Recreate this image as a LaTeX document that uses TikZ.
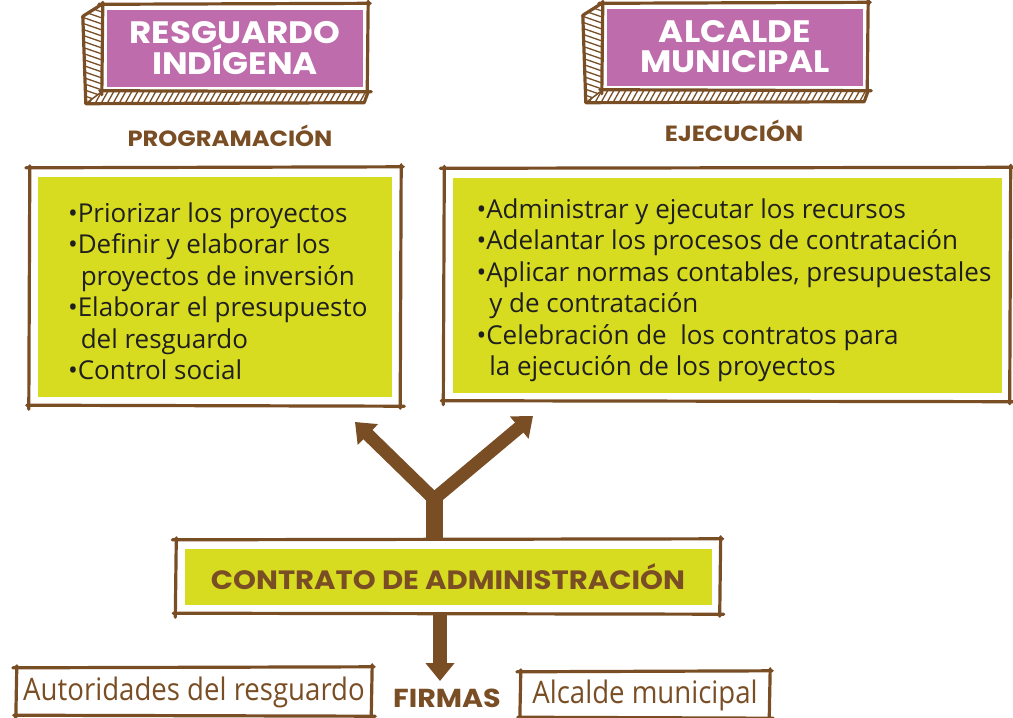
\documentclass[tikz,border=0pt]{standalone}
\usepackage{fontspec}
\setmainfont{Open Sans}
\newfontfamily\titfont[FakeStretch=1.1]{Poppins}
\newfontfamily\delgada[FakeStretch=0.89]{Open Sans}
\usetikzlibrary{arrows.meta,positioning}

\definecolor{cafe}{HTML}{7A4E25}
\definecolor{rosa}{HTML}{BE6CAB}
\definecolor{lima}{HTML}{D8DC21}

% hand drawn frame round a node: #1 node, #2 gap
\newcommand{\boceto}[2]{%
  \draw[trazo] ([shift={(-#2-3,-#2)}]#1.north west) -- ([shift={(#2+2,-#2-1)}]#1.north east);
  \draw[trazo] ([shift={(#2,-#2-3)}]#1.north east) -- ([shift={(#2-1,#2+2)}]#1.south east);
  \draw[trazo] ([shift={(#2+3,#2)}]#1.south east) -- ([shift={(-#2-2,#2-1)}]#1.south west);
  \draw[trazo] ([shift={(-#2,#2+3)}]#1.south west) -- ([shift={(-#2+1,-#2-2)}]#1.north west);
}

\begin{document}
\begin{tikzpicture}[
        x=1pt, y=-1pt,
        trazo/.style={draw=cafe, line width=3.2pt, line cap=round},
        titulo/.style={
            fill=rosa,
            text=white,
            align=center,
            inner sep=0pt,
            minimum width=256pt,
            minimum height=77pt,
            font=\titfont\bfseries\fontsize{31}{30}\selectfont
        },
        etapa/.style={
            text=cafe,
            inner sep=0pt,
            font=\titfont\bfseries\fontsize{22}{22}\selectfont
        },
        panel/.style={fill=lima, inner sep=0pt},
        lista/.style={
            align=left,
            inner sep=0pt,
            text=black!88,
            font=\fontsize{26}{31.5}\selectfont
        },
        firma/.style={
            text=cafe,
            inner sep=0pt,
            font=\delgada\fontsize{31}{32}\selectfont
        },
        flecha/.style={draw=cafe, line width=13pt, line join=round,
            -{Triangle[width=28pt,length=18pt]}}
    ]
    \useasboundingbox (0,0) rectangle (1013,718);

    % Headers
    \node[titulo] (resg) at (235,48) {RESGUARDO\\INDÍGENA};
    \node[titulo] (alc) at (735,47) {ALCALDE\\MUNICIPAL};

    \foreach \n in {resg,alc} {
        \coordinate (\n-a) at ([shift={(-5,-5)}]\n.north west);
        \coordinate (\n-b) at ([shift={(5,-5)}]\n.north east);
        \coordinate (\n-c) at ([shift={(5,5)}]\n.south east);
        \coordinate (\n-d) at ([shift={(-5,5)}]\n.south west);
        \coordinate (\n-e) at ([shift={(-19,12)}]\n-a);
        \coordinate (\n-f) at ([shift={(-16,12)}]\n-d);
        \coordinate (\n-g) at ([shift={(-4,11)}]\n-c);
        % side face
        \begin{scope}
            \clip (\n-a) -- (\n-e) -- (\n-f) -- (\n-d) -- cycle;
            \fill[white] (\n-e) rectangle (\n-d);
            \foreach \k in {0,...,17}
                \draw[cafe, line width=1.3pt] ([shift={(-22,6*\k)}]\n-a) -- ++(26,9);
        \end{scope}
        % bottom face
        \begin{scope}
            \clip (\n-d) -- (\n-f) -- (\n-g) -- (\n-c) -- cycle;
            \foreach \k in {0,...,48}
                \draw[cafe, line width=1.3pt] ([shift={(-20+6*\k,14)}]\n-d) -- ++(9,-16);
        \end{scope}
        \draw[trazo, line join=round] (\n-a) -- (\n-e) -- (\n-f) -- (\n-g) -- (\n-c);
        \draw[cafe, line width=1.5pt] (\n-d) -- (\n-f);
        \boceto{\n}{5}
    }

    \node[etapa] (prog) at (230,136) {PROGRAMACIÓN};
    \node[etapa] (ejec) at (734,131) {EJECUCIÓN};

    % Tasks
    \node[panel, minimum width=354pt, minimum height=220pt] (pizR) at (215,287) {};
    \node[lista, right=30pt of pizR.west, yshift=-4pt] (listaR) {%
        •Priorizar los proyectos\\
        •Definir y elaborar los\\
        \hphantom{•}\kern3pt proyectos de inversión\\
        •Elaborar el presupuesto\\
        \hphantom{•}\kern3pt del resguardo\\
        •Control social};
    \boceto{pizR}{9}

    \node[panel, minimum width=549pt, minimum height=215pt] (pizA) at (727,285) {};
    \node[lista, right=24pt of pizA.west, yshift=-5pt] (listaA) {%
        •Administrar y ejecutar los recursos\\
        •Adelantar los procesos de contratación\\
        •Aplicar normas contables, presupuestales\\
        \hphantom{•}\kern3pt y de contratación\\
        •Celebración de\ \ los contratos para\\
        \hphantom{•}\kern3pt la ejecución de los proyectos};
    \boceto{pizA}{9}

    % Contract
    \node[panel, minimum width=527pt, minimum height=56pt, text=cafe,
        font=\titfont\bfseries\fontsize{26.5}{27}\selectfont] (contrato) at (448,577)
        {CONTRATO DE ADMINISTRACIÓN};
    \boceto{contrato}{9}

    \coordinate (bif) at (434,499);
    \coordinate (puntaR) at (355,422);
    \coordinate (puntaA) at (533,416);
    \coordinate (puntaF) at (440,681);
    \draw[cafe, line width=17pt] (contrato.north -| bif) ++(0,-9) -- ([shift={(0,-6)}]bif);
    \draw[flecha] ([shift={(0,16)}]bif) -- (bif) -- (puntaR);
    \draw[flecha] ([shift={(0,16)}]bif) -- (bif) -- (puntaA);
    \draw[flecha, line width=14pt] (contrato.south -| puntaF) ++(0,9) -- (puntaF);

    % Signatures
    \node[firma, minimum width=352pt, minimum height=44pt] (firmaR) at (194,692) {Autoridades del resguardo};
    \boceto{firmaR}{2}
    \node[etapa, font=\titfont\bfseries\fontsize{26}{26}\selectfont] (firmas) at (447,698) {FIRMAS};
    \node[firma, minimum width=246pt, minimum height=42pt] (firmaA) at (645,695) {Alcalde municipal};
    \boceto{firmaA}{2}
\end{tikzpicture}
\end{document}
